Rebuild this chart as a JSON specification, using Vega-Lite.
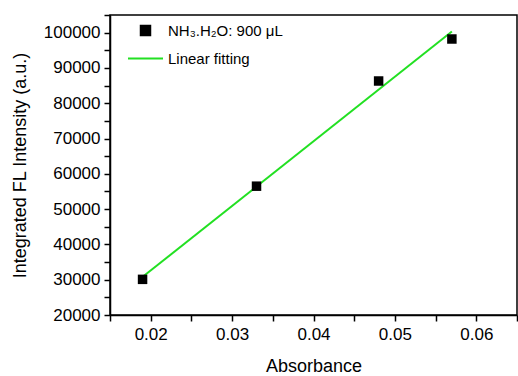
{
  "$schema": "https://vega.github.io/schema/vega-lite/v6.json",
  "width": 407,
  "height": 300,
  "autosize": {"type": "none"},
  "padding": {"left": 110, "top": 15, "right": 1, "bottom": 61},
  "background": "white",
  "config": {
    "font": "Liberation Sans",
    "view": {"stroke": "black", "strokeWidth": 1.5},
    "axis": {
      "grid": false,
      "domainColor": "black",
      "domainWidth": 1.5,
      "tickColor": "black",
      "tickWidth": 1.5,
      "tickSize": 6,
      "labelColor": "black",
      "titleColor": "black",
      "labelFont": "Liberation Sans",
      "titleFont": "Liberation Sans",
      "labelFontSize": 17,
      "titleFontSize": 18,
      "titleFontWeight": "normal",
      "labelOverlap": false
    }
  },
  "data": {
    "values": [
      {"x": 0.019, "y": 30100, "series": "NH₃.H₂O: 900 μL"},
      {"x": 0.033, "y": 56500, "series": "NH₃.H₂O: 900 μL"},
      {"x": 0.048, "y": 86300, "series": "NH₃.H₂O: 900 μL"},
      {"x": 0.057, "y": 98200, "series": "NH₃.H₂O: 900 μL"},
      {"x": 0.0189, "y": 30600, "series": "Linear fitting"},
      {"x": 0.057, "y": 100300, "series": "Linear fitting"}
    ]
  },
  "encoding": {
    "x": {
      "field": "x",
      "type": "quantitative",
      "scale": {"domain": [0.015, 0.065], "nice": false, "zero": false},
      "axis": {
        "title": "Absorbance",
        "values": [0.015, 0.02, 0.025, 0.03, 0.035, 0.04, 0.045, 0.05, 0.055, 0.06, 0.065],
        "labelExpr": "round(datum.value*200)%2==0 ? format(datum.value,'.2f') : ''",
        "labelPadding": 5,
        "labelOverlap": false,
        "titleX": 203.5,
        "titleY": 51,
        "titleBaseline": "middle",
        "titleAlign": "center"
      }
    },
    "y": {
      "field": "y",
      "type": "quantitative",
      "scale": {"domain": [20000, 105000], "nice": false, "zero": false},
      "axis": {
        "title": "Integrated FL Intensity (a.u.)",
        "values": [20000, 25000, 30000, 35000, 40000, 45000, 50000, 55000, 60000, 65000, 70000, 75000, 80000, 85000, 90000, 95000, 100000, 105000],
        "labelExpr": "round(datum.value/5000)%2==0 ? format(datum.value,'d') : ''",
        "labelPadding": 4,
        "labelOverlap": false,
        "titleX": -90,
        "titleY": 150,
        "titleBaseline": "middle",
        "titleAlign": "center",
        "titleAngle": -90
      }
    }
  },
  "layer": [
    {
      "transform": [{"filter": "datum.series === 'Linear fitting'"}],
      "mark": {"type": "line", "strokeWidth": 2},
      "encoding": {
        "color": {"field": "series", "type": "nominal"}
      }
    },
    {
      "transform": [{"filter": "datum.series !== 'Linear fitting'"}],
      "mark": {"type": "point", "filled": true, "opacity": 1},
      "encoding": {
        "color": {
          "field": "series",
          "type": "nominal",
          "scale": {"domain": ["NH₃.H₂O: 900 μL", "Linear fitting"], "range": ["black", "#22e022"]},
          "legend": {
            "title": null,
            "orient": "none",
            "legendX": 17,
            "legendY": 8,
            "labelFontSize": 15,
            "labelFont": "Liberation Sans",
            "labelColor": "black",
            "labelOffset": 4,
            "rowPadding": -7,
            "symbolStrokeWidth": 2,
            "encode": {
              "symbols": {
                "update": {
                  "stroke": {"scale": "color", "field": "value"}
                }
              }
            }
          }
        },
        "shape": {
          "field": "series",
          "type": "nominal",
          "scale": {"domain": ["NH₃.H₂O: 900 μL", "Linear fitting"], "range": ["square", "stroke"]}
        },
        "size": {
          "field": "series",
          "type": "nominal",
          "scale": {"domain": ["NH₃.H₂O: 900 μL", "Linear fitting"], "range": [90, 1225]}
        }
      }
    }
  ]
}
